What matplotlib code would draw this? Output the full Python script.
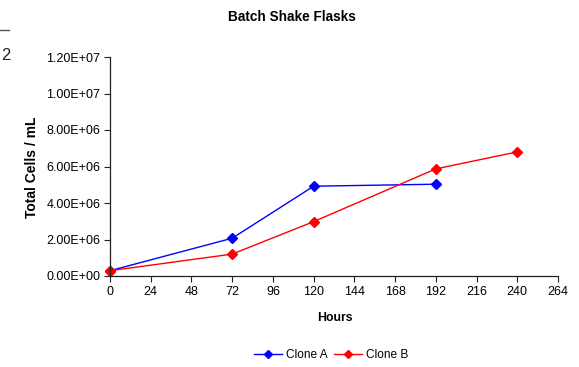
import matplotlib
matplotlib.use("Agg")
import matplotlib.pyplot as plt
from matplotlib.ticker import FuncFormatter

plt.rcParams['font.family'] = ['Liberation Sans', 'DejaVu Sans']

hours_a = [0, 72, 120, 192]
clone_a = [2.9e5, 2.07e6, 4.92e6, 5.03e6]
hours_b = [0, 72, 120, 192, 240]
clone_b = [2.9e5, 1.2e6, 2.98e6, 5.87e6, 6.8e6]
x_ticks = list(range(0, 265, 24))
y_ticks = [0, 2e6, 4e6, 6e6, 8e6, 1e7, 1.2e7]

W, H = 579, 367
fig = plt.figure(figsize=(W / 100, H / 100), dpi=100)
ax = fig.add_axes([110 / W, 1 - 276 / H, (558 - 110) / W, (276 - 57) / H])

ax.plot(hours_a, clone_a, color='#0000FF', lw=1, marker='D', ms=5.5, label='Clone A', clip_on=False)
ax.plot(hours_b, clone_b, color='#FF0000', lw=1, marker='D', ms=5.5, label='Clone B', clip_on=False)

ax.set_xlim(0, 264)
ax.set_ylim(0, 1.2e7)
ax.set_xticks(x_ticks)
ax.set_yticks(y_ticks)

def sci(v, pos):
    return f"{v:.2E}"
ax.yaxis.set_major_formatter(FuncFormatter(sci))

for s in ['top', 'right']:
    ax.spines[s].set_visible(False)
for s in ['left', 'bottom']:
    ax.spines[s].set_color('#222222')
    ax.spines[s].set_linewidth(0.9)
ax.tick_params(direction='out', length=4, width=0.8, labelsize=9, pad=3, colors='#222222', labelcolor='black')

fig.text(292 / W, 1 - 17 / H, 'Batch Shake Flasks', ha='center', va='center', fontsize=9.8, fontweight='bold')
fig.text(32 / W, 1 - 167 / H, 'Total Cells / mL', ha='center', va='center', rotation=90, fontsize=10, fontweight='bold')
fig.text(335 / W, 1 - 318 / H, 'Hours', ha='center', va='center', fontsize=8.8, fontweight='bold')

# stray artifacts at top-left of the reference
fig.text(1 / W, 1 - 55 / H, '2', ha='left', va='center', fontsize=12, color='#222222')
fig.add_artist(plt.Line2D([0, 9 / W], [1 - 30 / H, 1 - 30 / H], color='#555555', lw=1, transform=fig.transFigure))

leg = fig.legend(loc='center', bbox_to_anchor=(331 / W, 1 - 355 / H), ncol=2, frameon=False,
                 fontsize=8.6, handlelength=2.4, columnspacing=0.5, handletextpad=0.3, markerscale=0.8)

fig.savefig('out.png', dpi=100)
